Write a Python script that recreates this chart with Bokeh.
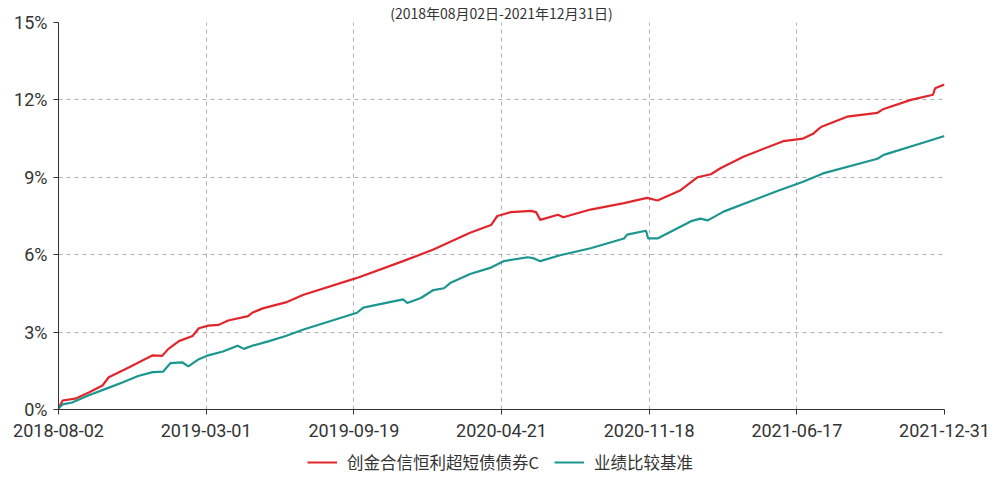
from bokeh.plotting import figure
from bokeh.layouts import column
from bokeh.models import FixedTicker, Legend, LegendItem, ColumnDataSource
from bokeh.embed import file_html
from bokeh.resources import INLINE

# trading-day index (0 = 2018-08-02, 846 = 2021-12-31) and cumulative return (%)
fund_day = [0, 4, 16, 29, 42, 48, 67, 90, 99, 105, 115, 128, 134, 143, 153, 162, 181, 185, 195,
            217, 234, 285, 329, 358, 393, 413, 419, 432, 451, 456, 460, 477, 482, 508, 540, 562,
            572, 594, 610, 623, 632, 654, 692, 711, 721, 728, 753, 782, 788, 814, 835, 837, 846]
fund_ret = [0.05, 0.35, 0.42, 0.66, 0.93, 1.25, 1.63, 2.10, 2.08, 2.35, 2.65, 2.85, 3.15, 3.25,
            3.28, 3.45, 3.62, 3.75, 3.92, 4.15, 4.45, 5.10, 5.75, 6.20, 6.85, 7.15, 7.50, 7.65,
            7.70, 7.65, 7.35, 7.55, 7.45, 7.75, 8.00, 8.20, 8.10, 8.50, 9.00, 9.12, 9.35, 9.80,
            10.40, 10.50, 10.70, 10.95, 11.35, 11.50, 11.65, 12.00, 12.20, 12.45, 12.60]

bench_day = [0, 4, 13, 29, 45, 61, 76, 90, 100, 107, 118, 124, 134, 143, 157, 171, 177, 185, 201,
             217, 234, 285, 291, 329, 333, 346, 358, 368, 374, 393, 413, 425, 448, 453, 460, 479,
             508, 540, 543, 561, 563, 572, 604, 613, 620, 635, 687, 711, 730, 782, 788, 830, 846]
bench_ret = [0.05, 0.20, 0.27, 0.55, 0.80, 1.05, 1.30, 1.45, 1.47, 1.80, 1.83, 1.67, 1.95, 2.10,
             2.25, 2.47, 2.35, 2.47, 2.65, 2.85, 3.10, 3.75, 3.95, 4.27, 4.13, 4.32, 4.63, 4.70,
             4.90, 5.25, 5.50, 5.75, 5.90, 5.87, 5.75, 5.98, 6.25, 6.63, 6.78, 6.93, 6.63, 6.63,
             7.30, 7.40, 7.33, 7.67, 8.48, 8.83, 9.15, 9.72, 9.87, 10.40, 10.60]

tick_days = [0, 141, 282, 423, 564, 705, 846]
tick_labels = ["2018-08-02", "2019-03-01", "2019-09-19", "2020-04-21", "2020-11-18", "2021-06-17", "2021-12-31"]
y_ticks = [0, 3, 6, 9, 12, 15]

series_names = ["创金合信恒利超短债债券C", "业绩比较基准"]
title_text = "(2018年08月02日-2021年12月31日)"

RED = "#e0262c"
TEAL = "#1b9690"
FONT = "Noto Sans CJK SC"
TICK_FONT = "Roboto"

p = figure(width=990, height=450, output_backend="svg", toolbar_location=None,
           x_range=(0, 846), y_range=(0, 15),
           min_border_left=58, min_border_right=46, min_border_top=20, min_border_bottom=41)
p.outline_line_color = None
p.background_fill_color = "white"

p.title.text = title_text
p.title.align = "center"
p.title.text_font = FONT
p.title.text_font_size = "14px"
p.title.text_font_style = "normal"
p.title.text_color = "#333333"
p.title.standoff = 0
p.title.offset = 0

fund_src = ColumnDataSource(dict(x=fund_day, y=fund_ret))
bench_src = ColumnDataSource(dict(x=bench_day, y=bench_ret))
p.line("x", "y", source=fund_src, line_color=RED, line_width=2.2)
p.line("x", "y", source=bench_src, line_color=TEAL, line_width=2.2)

p.xaxis.ticker = FixedTicker(ticks=tick_days)
p.xaxis.major_label_overrides = {d: l for d, l in zip(tick_days, tick_labels)}
p.yaxis.ticker = FixedTicker(ticks=y_ticks)
p.yaxis.major_label_overrides = {v: f"{v}%" for v in y_ticks}

for ax in (p.xaxis, p.yaxis):
    ax.axis_line_color = "#333333"
    ax.major_tick_line_color = "#333333"
    ax.major_tick_in = 0
    ax.major_tick_out = 5
    ax.minor_tick_line_color = None
    ax.major_label_text_font = TICK_FONT
    ax.major_label_text_font_size = "18px"
    ax.major_label_text_color = "#333333"
p.xaxis.major_label_standoff = 9
p.yaxis.major_label_standoff = 6

p.xgrid.ticker = FixedTicker(ticks=tick_days)
p.ygrid.ticker = FixedTicker(ticks=y_ticks)
for g in (p.xgrid, p.ygrid):
    g.grid_line_color = "#b0b0b0"
    g.grid_line_dash = "4 4"
    g.grid_line_width = 1

# legend strip below the chart (its sample lines lie outside its visible range)
lg = figure(width=990, height=27, output_backend="svg", toolbar_location=None,
            x_axis_type=None, y_axis_type=None, min_border=0,
            x_range=(0, 1), y_range=(0, 1))
lg.outline_line_color = None
lg.xgrid.visible = False
lg.ygrid.visible = False
l1 = lg.line(x=[5, 6], y=[5, 6], line_color=RED, line_width=2)
l2 = lg.line(x=[5, 6], y=[5, 6], line_color=TEAL, line_width=2)
legend = Legend(items=[LegendItem(label=series_names[0], renderers=[l1]),
                       LegendItem(label=series_names[1], renderers=[l2])],
                orientation="horizontal", location=(249, 3),
                label_text_font=FONT, label_text_font_size="16.5px", label_text_color="#333333",
                glyph_width=30, label_standoff=10, spacing=15,
                border_line_color=None, background_fill_alpha=0, padding=0, margin=0)
lg.add_layout(legend, "center")

layout = column(p, lg, spacing=0)
open("out.html", "w").write(file_html(layout, INLINE))
